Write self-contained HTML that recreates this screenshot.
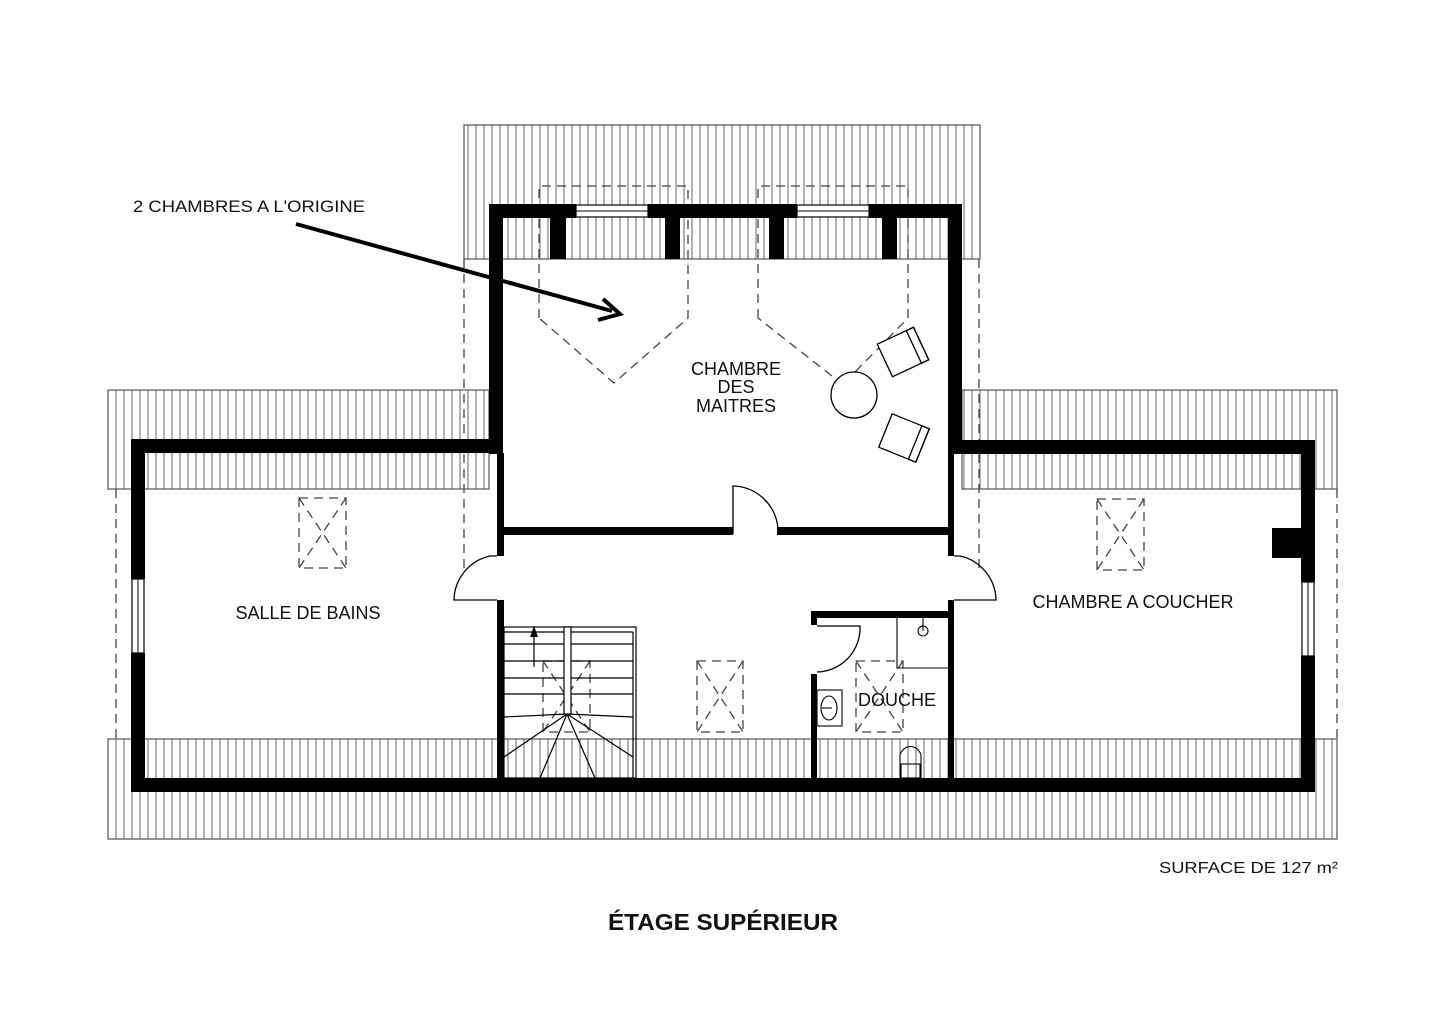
<!DOCTYPE html>
<html><head><meta charset="utf-8"><style>
html,body{margin:0;padding:0;background:#fff;}
svg{display:block;}
text{font-family:"Liberation Sans",Arial,sans-serif;fill:#111;}
</style></head><body>
<svg width="1440" height="1018" viewBox="0 0 1440 1018" xmlns="http://www.w3.org/2000/svg">
<defs>
<pattern id="h" x="0" y="0" width="8" height="10" patternUnits="userSpaceOnUse">
<line x1="4" y1="0" x2="4" y2="10" stroke="#666" stroke-width="1"/>
</pattern>
</defs>
<rect width="1440" height="1018" fill="#fff"/>
<g stroke="#555" stroke-width="1.2">
<rect x="464" y="125" width="516" height="134" fill="url(#h)"/>
<rect x="108" y="390" width="381" height="99" fill="url(#h)"/>
<rect x="962" y="390" width="375" height="99" fill="url(#h)"/>
<rect x="108" y="739" width="1229" height="100" fill="url(#h)"/>
</g>
<g stroke="#444" stroke-width="1.3" fill="none" stroke-dasharray="9,6">
<line x1="116" y1="489" x2="116" y2="739"/>
<line x1="1337" y1="489" x2="1337" y2="739"/>
<line x1="464" y1="259" x2="464" y2="570"/>
<line x1="979" y1="259" x2="979" y2="570"/>
<path d="M539 318 V186 H688 V318 L614 383 Z"/>
<path d="M758 318 V186 H908 V318 L855 372 M832 376 L758 318"/>
<rect x="299" y="498" width="47" height="70"/>
<rect x="1097" y="499" width="47" height="71"/>
<rect x="697" y="661" width="46" height="71"/>
<rect x="856" y="661" width="47" height="71"/>
<rect x="543" y="661" width="47" height="71"/>
</g>
<g stroke="#444" stroke-width="1.3" stroke-dasharray="9,6">
<path d="M299 498 L346 568 M346 498 L299 568"/>
<path d="M1097 499 L1144 570 M1144 499 L1097 570"/>
<path d="M697 661 L743 732 M743 661 L697 732"/>
<path d="M856 661 L903 732 M903 661 L856 732"/>
<path d="M543 661 L590 732 M590 661 L543 732"/>
</g>
<g fill="#000">
<rect x="489" y="204" width="14" height="250"/>
<rect x="948" y="204" width="14" height="250"/>
<rect x="489" y="204" width="87" height="14"/>
<rect x="648" y="204" width="149" height="14"/>
<rect x="869" y="204" width="93" height="14"/>
<rect x="550" y="218" width="16" height="41"/>
<rect x="665" y="218" width="15" height="41"/>
<rect x="769" y="218" width="15" height="41"/>
<rect x="882" y="218" width="15" height="41"/>
<rect x="497" y="527" width="236" height="8"/>
<rect x="777" y="527" width="177" height="8"/>
<rect x="131" y="439" width="372" height="14"/>
<rect x="131" y="439" width="14" height="140"/>
<rect x="131" y="653" width="14" height="139"/>
<rect x="497" y="453" width="7" height="103"/>
<rect x="497" y="600" width="7" height="180"/>
<rect x="948" y="440" width="367" height="14"/>
<rect x="1301" y="440" width="14" height="142"/>
<rect x="1301" y="656" width="14" height="136"/>
<rect x="1272" y="528" width="30" height="30"/>
<rect x="948" y="454" width="6" height="102"/>
<rect x="948" y="600" width="6" height="180"/>
<rect x="131" y="778" width="1184" height="14"/>
<rect x="811" y="611" width="143" height="7"/>
<rect x="811" y="611" width="6" height="14"/>
<rect x="811" y="674" width="6" height="106"/>
</g>
<g fill="#fff" stroke="#000" stroke-width="1.2">
<rect x="576" y="205" width="72" height="12"/>
<rect x="797" y="205" width="72" height="12"/>
<rect x="132" y="579" width="12" height="74"/>
<rect x="1302" y="582" width="12" height="74"/>
</g>
<g stroke="#000" stroke-width="1">
<line x1="576" y1="211" x2="648" y2="211"/>
<line x1="797" y1="211" x2="869" y2="211"/>
<line x1="138" y1="579" x2="138" y2="653"/>
<line x1="1308" y1="582" x2="1308" y2="656"/>
</g>
<g stroke="#000" stroke-width="1.3" fill="none">
<path d="M733 534 V486 A46 46 0 0 1 778 530"/>
<path d="M497 556 H490 A46 46 0 0 0 454 600 H497"/>
<path d="M954 556 H960 A46 46 0 0 1 996 600 H954"/>
<path d="M817 626 H860 A44 44 0 0 1 817 672"/>
</g>
<g stroke="#000" stroke-width="1.3" fill="#fff">
<circle cx="854" cy="395" r="23"/>
<g transform="translate(903,352) rotate(-25)">
<rect x="-20" y="-18" width="40" height="36"/>
<rect x="12" y="-18" width="8" height="36" fill="none"/>
</g>
<g transform="translate(904,438) rotate(22)">
<rect x="-20" y="-18" width="40" height="36"/>
<rect x="12" y="-18" width="8" height="36" fill="none"/>
</g>
</g>
<g stroke="#000" stroke-width="1.2" fill="none">
<rect x="504" y="627" width="132" height="151"/>
<line x1="633" y1="632" x2="633" y2="778"/>
<rect x="564" y="627" width="7" height="87" fill="#fff"/>
<path d="M504 632 H564 M571 632 H633 M504 644 H564 M571 644 H633 M504 661 H564 M571 661 H633 M504 678 H564 M571 678 H633 M504 694 H564 M571 694 H633"/>
<path d="M567 714 L504 717 M567 714 L504 757 M567 714 L540 778 M567 714 L595 778 M567 714 L633 757 M567 714 L633 717"/>
<line x1="534" y1="667" x2="534" y2="632"/>
</g>
<path d="M534 626 L530 637 L538 637 Z" fill="#000"/>
<g stroke="#000" stroke-width="1.1" fill="none">
<path d="M897 618 V668 H949"/>
<circle cx="923" cy="631" r="5"/>
<line x1="923" y1="618" x2="923" y2="631"/>
<rect x="817" y="690" width="25" height="36"/>
<ellipse cx="829" cy="708" rx="8" ry="12"/>
<line x1="822" y1="708" x2="832" y2="708"/>
<path d="M900 778 V755 A11 12 0 0 1 921 755 V778"/>
<rect x="901" y="764" width="19" height="14"/>
</g>
<line x1="296" y1="224" x2="612" y2="311" stroke="#000" stroke-width="4"/>
<path d="M603 299 L620 314 L598 320" fill="none" stroke="#000" stroke-width="4"/>
<text x="133" y="212" font-size="16.5" textLength="232" lengthAdjust="spacingAndGlyphs">2 CHAMBRES A L'ORIGINE</text>
<text x="736" y="375" font-size="18" text-anchor="middle">CHAMBRE</text>
<text x="736" y="393" font-size="18" text-anchor="middle">DES</text>
<text x="736" y="412" font-size="18" text-anchor="middle">MAITRES</text>
<text x="308" y="619" font-size="18" text-anchor="middle">SALLE DE BAINS</text>
<text x="1133" y="608" font-size="18" text-anchor="middle">CHAMBRE A COUCHER</text>
<text x="897" y="706" font-size="18" text-anchor="middle">DOUCHE</text>
<text x="1159" y="873" font-size="16" textLength="179" lengthAdjust="spacingAndGlyphs">SURFACE DE 127 m²</text>
<text x="608" y="930" font-size="23" font-weight="bold" textLength="230" lengthAdjust="spacingAndGlyphs">ÉTAGE SUPÉRIEUR</text>
</svg>
</body></html>
